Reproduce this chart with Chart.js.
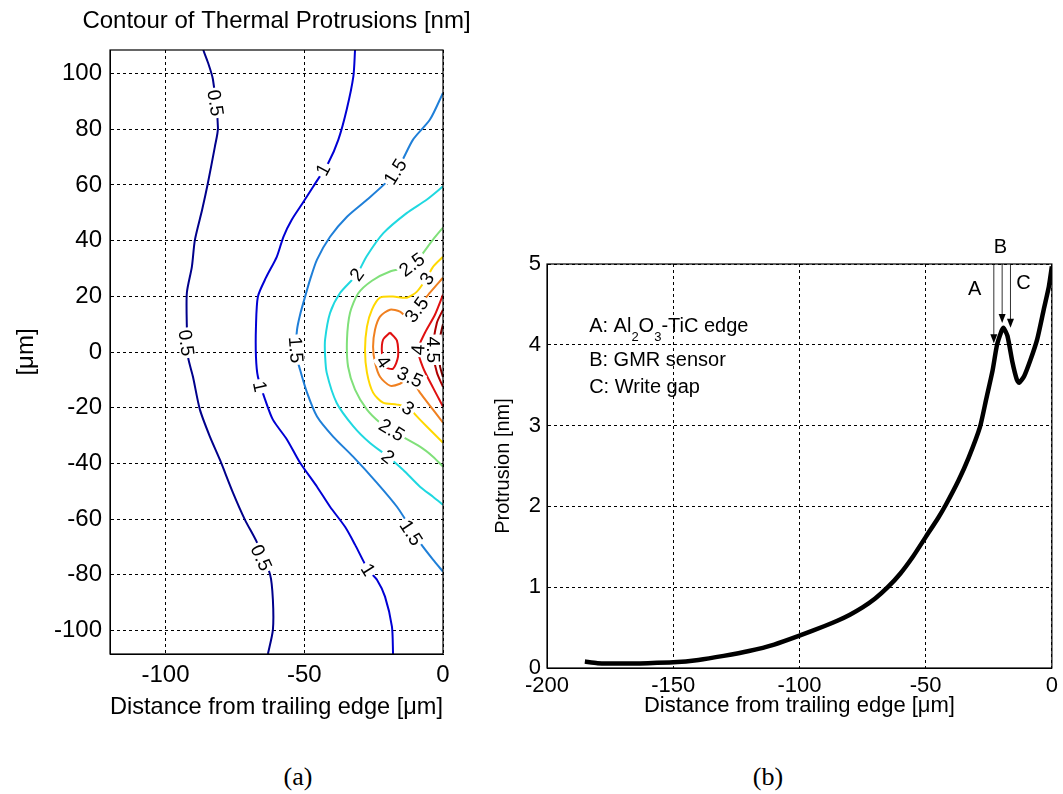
<!DOCTYPE html>
<html>
<head>
<meta charset="utf-8">
<script src="https://cdn.jsdelivr.net/npm/chart.js"></script>
<style>
  body { margin: 0; background: #fff; }
  #page { position: relative; width: 1063px; height: 794px; background: #fff; overflow: hidden; }
  #contourChart { position: absolute; left: 0; top: 0; }
  #profileChart { position: absolute; left: 480px; top: 230px; }
  .panel-tag { position: absolute; top: 762px; width: 60px; text-align: center;
    font-family: "Liberation Serif", "Times New Roman", serif; font-size: 26px; line-height: 30px; }
</style>
</head>
<body>
<div id="page">
  <canvas id="contourChart" width="480" height="730"></canvas>
  <canvas id="profileChart" width="583" height="500"></canvas>
  <div class="panel-tag" style="left:268px">(a)</div>
  <div class="panel-tag" style="left:738px">(b)</div>
</div>
<script>
// ---- (a) contour lines, [distance um, cross-track um] ----
const contour05 = [[-86.4, 108.5], [-84.7, 104.0], [-82.9, 97.9], [-81.1, 80.6], [-82.2, 73.8], [-84.7, 60.8], [-86.8, 51.1], [-89.4, 40.3], [-90.5, 30.6], [-92.3, 21.3], [-92.3, 8.7], [-91.9, -1.7], [-90.1, -8.9], [-87.6, -20.7], [-84.0, -30.4], [-80.4, -38.7], [-75.7, -50.5], [-71.4, -60.2], [-67.0, -68.5], [-62.3, -80.0], [-61.3, -89.0], [-61.3, -99.8], [-63.1, -108.5]];
const contour1 = [[-31.7, 108.5], [-32.3, 99.0], [-34.7, 87.1], [-37.7, 76.3], [-41.3, 68.0], [-46.8, 59.4], [-50.5, 53.6], [-54.5, 47.5], [-57.5, 41.4], [-59.9, 34.2], [-63.8, 26.7], [-66.7, 19.9], [-67.4, 9.1], [-67.4, -1.7], [-66.7, -8.9], [-64.1, -17.1], [-61.3, -24.3], [-56.2, -31.5], [-51.5, -39.8], [-45.4, -48.4], [-40.7, -55.6], [-35.3, -62.8], [-31.7, -69.2], [-27.0, -78.2], [-23.8, -81.8], [-20.9, -87.9], [-18.4, -98.7], [-18.0, -108.5]];
const contour15 = [[0, 93.1], [-4.7, 83.5], [-10.8, 76.3], [-15.5, 67.3], [-20.2, 61.2], [-27.4, 54.7], [-34.6, 48.6], [-40.7, 41.4], [-45.4, 33.2], [-47.9, 26.0], [-49.7, 19.9], [-51.5, 13.4], [-52.6, 8.0], [-53.0, -0.3], [-51.5, -6.4], [-49.0, -14.6], [-45.4, -23.2], [-39.6, -30.4], [-32.4, -37.6], [-23.8, -47.0], [-16.6, -55.6], [-11.9, -62.8], [-8.3, -68.5], [-3.6, -74.6], [0, -78.9]];
const contour2 = [[0, 59.5], [-5.9, 54.7], [-13.1, 49.9], [-21.5, 42.7], [-27.5, 34.4], [-31.1, 27.8], [-37.1, 21.2], [-40.7, 14.0], [-42.5, 4.4], [-42.5, -1.0], [-41.9, -7.5], [-38.3, -18.3], [-32.3, -26.7], [-26.3, -32.7], [-19.8, -37.6], [-14.4, -42.3], [-8.3, -48.4], [-3.6, -52.0], [0, -54.9]];
const contour25 = [[0, 44.7], [-3.6, 40.4], [-11.2, 31.0], [-19.1, 28.9], [-25.6, 25.6], [-30.6, 21.0], [-33.5, 14.1], [-34.6, 4.4], [-34.2, -5.3], [-31.7, -13.5], [-27.4, -20.7], [-22.7, -25.4], [-18.4, -28.3], [-8.3, -34.0], [-3.6, -37.6], [0, -41.2]];
const contour3 = [[0, 34.2], [-3.6, 30.6], [-5.8, 26.7], [-9.4, 21.7], [-13.0, 19.5], [-18.0, 19.9], [-22.7, 19.5], [-25.6, 15.2], [-27.4, 9.1], [-28.1, 0.8], [-27.4, -7.4], [-25.2, -14.6], [-21.6, -18.2], [-16.6, -18.9], [-12.6, -20.0], [-8.3, -24.3], [-3.6, -29.0], [0, -32.6]];
const contour35 = [[0, 26.7], [-4.7, 21.3], [-9.5, 15.5], [-11.9, 11.6], [-15.5, 14.5], [-19.1, 15.2], [-22.7, 12.7], [-24.5, 8.0], [-25.2, 1.9], [-24.5, -3.8], [-22.7, -8.9], [-19.1, -12.1], [-15.5, -11.4], [-11.9, -9.2], [-8.3, -14.6], [-3.6, -20.7], [0, -25.4]];
const contour4a = [[-19.1, 7.0], [-21.6, 4.4], [-22.0, -0.3], [-20.9, -5.3], [-18.0, -6.0], [-16.2, -1.7], [-16.6, 4.1], [-19.1, 7.0]];
const contour4b = [[0, 20.6], [-2.9, 13.4], [-6.5, 6.9], [-9.0, 0.8], [-7.2, -5.6], [-3.6, -12.8], [0, -19.6]];
const contour45 = [[0, 15.2], [-2.2, 10.5], [-3.6, 0.8], [-2.2, -7.4], [0, -12.5]];
const contour5 = [[0, 10.0], [-1.1, 5.0], [-1.3, 0], [-1.1, -5.0], [0, -9.0]];

const contourLevels = [0.5, 1, 1.5, 2, 2.5, 3, 3.5, 4, 4, 4.5, 5];
const contourPaths = [contour05, contour1, contour15, contour2, contour25, contour3, contour35, contour4a, contour4b, contour45, contour5];

// where the in-line level labels sit
const labelLevel = [0.5, 0.5, 0.5, 1, 1, 1, 1.5, 1.5, 1.5, 2, 2, 2.5, 2.5, 3, 3, 3.5, 3.5, 4, 4, 4.5];
const labelX = [-82.0, -92.5, -65.5, -43.2, -66.0, -27.0, -17.2, -53.0, -11.5, -31.1, -19.8, -11.2, -18.5, -5.8, -12.6, -9.5, -11.9, -21.5, -9.0, -3.4];
const labelY = [89.5, 3.3, -73.9, 65.5, -12.4, -78.2, 64.8, 0.8, -64.9, 27.8, -37.6, 31.4, -28.0, 26.3, -20.2, 15.2, -9.0, -3.5, 0.8, 0.8];

const contourXTicks = [-100, -50, 0];
const contourYTicks = [-100, -80, -60, -40, -20, 0, 20, 40, 60, 80, 100];

// ---- (b) protrusion profile ----
const distance = [-185, -180, -170, -160, -150, -140, -130, -120, -110, -100, -90, -85, -80, -75, -70, -65, -60, -55, -50, -45, -42, -37, -33, -28.5, -26, -23.5, -21.8, -20.2, -19.2, -17.6, -15.6, -13.9, -13, -11, -8.4, -5.8, -3.2, -1.2, 0];
const protrusion = [0.08, 0.06, 0.055, 0.06, 0.07, 0.10, 0.15, 0.21, 0.29, 0.40, 0.52, 0.585, 0.66, 0.75, 0.86, 1.0, 1.17, 1.38, 1.62, 1.86, 2.02, 2.32, 2.6, 2.98, 3.33, 3.68, 3.99, 4.15, 4.21, 4.11, 3.78, 3.57, 3.53, 3.61, 3.82, 4.07, 4.44, 4.72, 4.97];

const profileXTicks = [-200, -150, -100, -50, 0];
const profileYTicks = [0, 1, 2, 3, 4, 5];

const markerName = ['A', 'B', 'C'];
const markerX = [-23.0, -19.7, -16.4];
const markerTip = [4.02, 4.27, 4.21];
const markerLabelX = [-30.6, -20.4, -11.3];
const markerLabelY = [4.69, 5.2, 4.76];

const keyLines = ['A: Al_2O_3-TiC edge', 'B: GMR sensor', 'C: Write gap'];
const keyX = -183.3;
const keyY = [4.24, 3.82, 3.49];

const FONT = '"Liberation Sans", Arial, Helvetica, sans-serif';
Chart.defaults.font.family = FONT;
Chart.defaults.color = '#000';

const levelColors = {
    0.5: '#00008b', 1: '#0000d4', 1.5: '#1f7fd8', 2: '#1fd8e0', 2.5: '#80e07a',
    3: '#ffd800', 3.5: '#f08020', 4: '#e01010', 4.5: '#b00000', 5: '#800000'
};

// box round the plot, like matlab's "box on"
const frame = {
    id: 'frame',
    afterDraw(chart) {
        const {ctx, chartArea: a} = chart;
        ctx.save();
        ctx.strokeStyle = '#000';
        ctx.lineWidth = 1.2;
        ctx.strokeRect(a.left, a.top, a.right - a.left, a.bottom - a.top);
        ctx.restore();
    }
};

// title centred over the plot box, not squeezed to its width
const panelTitle = {
    id: 'panelTitle',
    afterDraw(chart, args, opts) {
        const {ctx, chartArea: a} = chart;
        ctx.save();
        ctx.font = opts.size + 'px ' + FONT;
        ctx.fillStyle = '#000';
        ctx.textAlign = 'center';
        ctx.textBaseline = 'middle';
        ctx.fillText(opts.text, (a.left + a.right) / 2, a.top - opts.offset);
        ctx.restore();
    }
};

// direction of the contour near a label, in pixels
function lineAngle(level, px, py, xs, ys) {
    let best = null, bestD = Infinity;
    contourPaths.forEach((path, k) => {
        if (contourLevels[k] !== level) return;
        const pts = path.map(p => [xs.getPixelForValue(p[0]), ys.getPixelForValue(p[1])]);
        pts.forEach((p, i) => {
            const d = (p[0] - px) ** 2 + (p[1] - py) ** 2;
            if (d < bestD) { bestD = d; best = [pts[Math.max(i - 1, 0)], pts[Math.min(i + 1, pts.length - 1)]]; }
        });
    });
    let a = Math.atan2(best[1][1] - best[0][1], best[1][0] - best[0][0]);
    if (a > Math.PI / 2) a -= Math.PI;
    if (a <= -Math.PI / 2) a += Math.PI;
    return a;
}

const contourLabels = {
    id: 'contourLabels',
    afterDatasetsDraw(chart) {
        const {ctx, chartArea: a, scales: {x, y}} = chart;
        ctx.save();
        ctx.beginPath();
        ctx.rect(a.left, a.top, a.right - a.left, a.bottom - a.top);
        ctx.clip();
        ctx.font = '19px ' + FONT;
        ctx.textAlign = 'center';
        ctx.textBaseline = 'middle';
        labelLevel.forEach((lv, i) => {
            const px = x.getPixelForValue(labelX[i]);
            const py = y.getPixelForValue(labelY[i]);
            const text = String(lv);
            const w = ctx.measureText(text).width;
            ctx.save();
            ctx.translate(px, py);
            ctx.rotate(lineAngle(lv, px, py, x, y));
            ctx.fillStyle = '#fff';
            ctx.fillRect(-w / 2 - 2, -8, w + 4, 16);
            ctx.fillStyle = '#000';
            ctx.fillText(text, 0, 1);
            ctx.restore();
        });
        ctx.restore();
    }
};

const profileNotes = {
    id: 'profileNotes',
    afterDatasetsDraw(chart) {
        const {ctx, scales: {x, y}} = chart;
        ctx.save();
        ctx.fillStyle = '#000';
        ctx.textBaseline = 'alphabetic';
        ctx.textAlign = 'left';
        keyLines.forEach((line, i) => {
            let cx = x.getPixelForValue(keyX);
            const cy = y.getPixelForValue(keyY[i]);
            line.split(/(_\d)/).forEach(part => {
                if (!part) return;
                const sub = part[0] === '_';
                const t = sub ? part.slice(1) : part;
                ctx.font = (sub ? 13 : 20) + 'px ' + FONT;
                ctx.fillText(t, cx, cy + (sub ? 16 : 7));
                cx += ctx.measureText(t).width;
            });
        });

        // arrows from the top edge down to the curve
        const top = y.getPixelForValue(5);
        ctx.strokeStyle = '#333';
        ctx.lineWidth = 1;
        ctx.font = '20px ' + FONT;
        ctx.textAlign = 'center';
        ctx.textBaseline = 'middle';
        markerName.forEach((n, i) => {
            const mx = x.getPixelForValue(markerX[i]);
            const tip = y.getPixelForValue(markerTip[i]);
            ctx.beginPath();
            ctx.moveTo(mx, top);
            ctx.lineTo(mx, tip - 8);
            ctx.stroke();
            ctx.beginPath();
            ctx.moveTo(mx, tip);
            ctx.lineTo(mx - 3.5, tip - 9);
            ctx.lineTo(mx + 3.5, tip - 9);
            ctx.closePath();
            ctx.fill();
            ctx.fillText(n, x.getPixelForValue(markerLabelX[i]), y.getPixelForValue(markerLabelY[i]));
        });
        ctx.restore();
    }
};

function gridAxis(extra) {
    return Object.assign({
        type: 'linear',
        grid: { color: '#000', lineWidth: 1, drawTicks: false },
        border: { display: true, color: '#000', width: 1, dash: [3, 3] }
    }, extra);
}

// (a) contour chart
new Chart(document.getElementById('contourChart').getContext('2d'), {
    type: 'scatter',
    data: {
        datasets: contourPaths.map((path, k) => ({
            label: String(contourLevels[k]),
            data: path.map(p => ({x: p[0], y: p[1]})),
            showLine: true,
            borderColor: levelColors[contourLevels[k]],
            borderWidth: 2,
            pointRadius: 0,
            tension: 0.25
        }))
    },
    options: {
        responsive: false,
        animation: false,
        layout: { padding: { left: 0, right: 37, top: 50, bottom: 0 } },
        plugins: {
            legend: { display: false },
            tooltip: { enabled: false },
            panelTitle: { text: 'Contour of Thermal Protrusions [nm]', size: 24, offset: 29 }
        },
        scales: {
            x: gridAxis({
                min: -120, max: 0,
                ticks: { padding: 7, font: { size: 24 } },
                afterBuildTicks: s => { s.ticks = contourXTicks.map(v => ({value: v})); },
                afterFit: s => { s.height = 76; },
                title: { display: true, text: 'Distance from trailing edge [μm]', font: { size: 24 }, padding: { top: 0, bottom: 8 } }
            }),
            y: gridAxis({
                min: -108.5, max: 108.5,
                ticks: { padding: 8, font: { size: 24 } },
                afterBuildTicks: s => { s.ticks = contourYTicks.map(v => ({value: v})); },
                afterFit: s => { s.width = 110; },
                title: { display: true, text: '[μm]', font: { size: 24 }, padding: { top: 12, bottom: 0 } }
            })
        }
    },
    plugins: [contourLabels, frame, panelTitle]
});

// (b) protrusion profile
new Chart(document.getElementById('profileChart').getContext('2d'), {
    type: 'scatter',
    data: {
        datasets: [{
            label: 'Protrusion',
            data: distance.map((d, i) => ({x: d, y: protrusion[i]})),
            showLine: true,
            borderColor: '#000',
            borderWidth: 4.5,
            borderJoinStyle: 'round',
            pointRadius: 0,
            tension: 0.2
        }]
    },
    options: {
        responsive: false,
        animation: false,
        layout: { padding: { left: 0, right: 8, top: 34, bottom: 0 } },
        plugins: { legend: { display: false }, tooltip: { enabled: false } },
        scales: {
            x: gridAxis({
                min: -200, max: 0,
                ticks: { padding: 5, font: { size: 22 } },
                afterBuildTicks: s => { s.ticks = profileXTicks.map(v => ({value: v})); },
                afterFit: s => { s.height = 62; },
                title: { display: true, text: 'Distance from trailing edge [μm]', font: { size: 22 }, padding: { top: 0, bottom: 11 } }
            }),
            y: gridAxis({
                min: 0, max: 5,
                ticks: { padding: 6, font: { size: 22 } },
                afterBuildTicks: s => { s.ticks = profileYTicks.map(v => ({value: v})); },
                afterFit: s => { s.width = 67; },
                title: { display: true, text: 'Protrusion [nm]', font: { size: 20 }, padding: { top: 11, bottom: 0 } }
            })
        }
    },
    plugins: [profileNotes, frame]
});
</script>
</body>
</html>
